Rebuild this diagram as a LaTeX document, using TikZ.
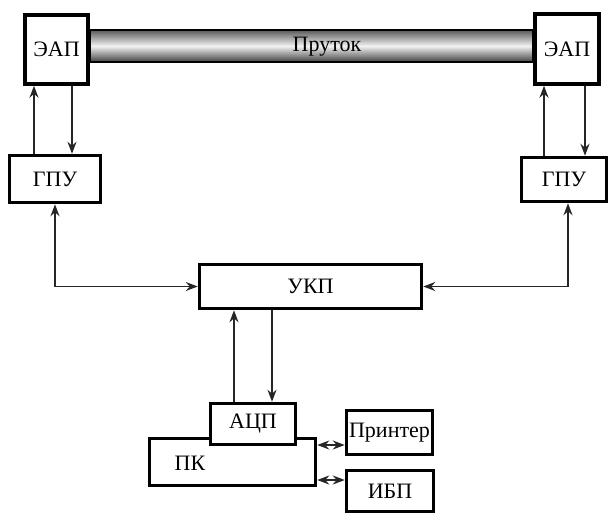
\documentclass[tikz,border=0pt]{standalone}
\usepackage{fontspec}
\setmainfont{Liberation Serif}
\usetikzlibrary{arrows.meta}

\tikzset{
  blok/.style={draw, line width=3.5pt, fill=white, inner sep=0pt,
    font=\fontsize{22}{26}\selectfont},
  link/.style={line width=1.8pt, black!85,
    arrows={-Stealth[length=12pt,width=9pt,inset=4pt]}},
  dvlink/.style={link, arrows={Stealth[length=12pt,width=9pt,inset=4pt]-Stealth[length=12pt,width=9pt,inset=4pt]}}
}

\begin{document}
\begin{tikzpicture}[x=1pt,y=-1pt]
  \useasboundingbox (0,0) rectangle (611,515);
  % rod between the two transducers
  \node[draw, line width=2.5pt, minimum width=443pt, minimum height=32pt, inner sep=0pt,
    top color=black!65, bottom color=black!75, middle color=black!5] (rod) at (311.5,46) {};
  \node[font=\fontsize{22}{26}\selectfont] (rodtext) at (327,47) {Пруток};
  % upper blocks
  \node[blok, minimum width=63pt, minimum height=69pt] (eapL) at (56.5,49.5) {ЭАП};
  \node[blok, minimum width=64pt, minimum height=70pt] (eapR) at (567,49) {ЭАП};
  \node[blok, minimum width=91pt, minimum height=47pt] (gpuL) at (55,179) {ГПУ};
  \node[blok, minimum width=85pt, minimum height=44pt] (gpuR) at (564,179.5) {ГПУ};
  \node[blok, minimum width=222pt, minimum height=44pt] (ukp) at (310.5,286.5) {УКП};
  % lower blocks
  \node[blok, minimum width=166pt, minimum height=47pt] (pk) at (232.5,462) {};
  \node[font=\fontsize{22}{26}\selectfont] (pktext) at (190,463) {ПК};
  \node[blok, minimum width=85pt, minimum height=41pt] (acp) at (253,424) {АЦП};
  \node[blok, minimum width=86pt, minimum height=44pt] (prn) at (389.5,432.5) {Принтер};
  \node[blok, minimum width=87pt, minimum height=41pt] (ibp) at (390,491) {ИБП};

  % connections
  \draw[link] (gpuL.north -| 34,0) -- (eapL.south -| 34,0);
  \draw[link] (eapL.south -| 72,0) -- (gpuL.north -| 72,0);
  \draw[link] (gpuR.north -| 544,0) -- (eapR.south -| 544,0);
  \draw[link] (eapR.south -| 585,0) -- (gpuR.north -| 585,0);
  \draw[dvlink] (gpuL.south) |- (ukp.west);
  \draw[dvlink] (gpuR.south -| 568,0) |- (ukp.east);
  \draw[link] (acp.north -| 234,0) -- (ukp.south -| 234,0);
  \draw[link] (ukp.south -| 272,0) -- (acp.north -| 272,0);
  \draw[dvlink] (pk.east |- 0,445) -- (prn.west |- 0,445);
  \draw[dvlink] (pk.east |- 0,480) -- (ibp.west |- 0,480);
\end{tikzpicture}
\end{document}
